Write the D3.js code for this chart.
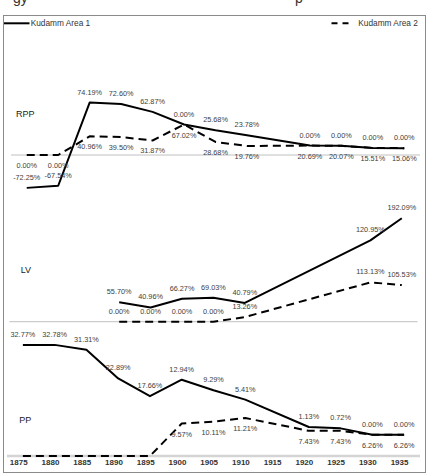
<!DOCTYPE html>
<html>
<head>
<meta charset="utf-8">
<script src="https://cdn.jsdelivr.net/npm/d3@7"></script>
<style>
body { margin: 0; background: #fff; }
svg { display: block; }
</style>
</head>
<body>
<svg id="chart" width="429" height="476"></svg>
<script>
var years = [1875, 1880, 1885, 1890, 1895, 1900, 1905, 1910, 1915, 1920, 1925, 1930, 1935];
var seriesNames = ["Kudamm Area 1", "Kudamm Area 2"];

// stacked line: the solid line is area 1 + area 2, the dashed one is area 2
var rppArea1 = [-72.25, -67.54, 74.19, 72.60, 62.87, 0.00, 25.68, 23.78, null, 0.00, 0.00, 0.00, 0.00];
var rppArea2 = [0.00, 0.00, 40.96, 39.50, 31.87, 67.02, 28.68, 19.76, null, 20.69, 20.07, 15.51, 15.06];
var lvArea1 = [null, null, null, 55.70, 40.96, 66.27, 69.03, 40.79, null, null, null, 120.95, 192.09];
var lvArea2 = [null, null, null, 0.00, 0.00, 0.00, 0.00, 13.26, null, null, null, 113.13, 105.53];
var ppArea1 = [32.77, 32.78, 31.31, 22.89, 17.66, 12.94, 9.29, 5.41, null, 1.13, 0.72, 0.00, 0.00];
var ppArea2 = [0.00, 0.00, 0.00, 0.00, 0.00, 9.57, 10.11, 11.21, null, 7.43, 7.43, 6.26, 6.26];
var ppArea2Unlabelled = [1875, 1880, 1885, 1890, 1895];

var panels = [
    {name: "RPP", a1: rppArea1, a2: rppArea2, xr: [11, 420], zero: 155, k: 0.455, a2below: true, lx: 16, ly: 116.7, skip2: []},
    {name: "LV", a1: lvArea1, a2: lvArea2, xr: [9.3, 417.5], zero: 321.7, k: 0.3475, a2below: false, lx: 20.7, ly: 272.7, skip2: []},
    {name: "PP", a1: ppArea1, a2: ppArea2, xr: [7, 420], zero: 456, k: 3.39, a2below: true, lx: 19.3, ly: 422.7, skip2: ppArea2Unlabelled}
];

var svg = d3.select("#chart");
var fmt = function(v) { return v.toFixed(2) + "%"; };

svg.append("rect").attr("width", 429).attr("height", 476).attr("fill", "#fff");

// cut-off title at the top edge
svg.append("text").attr("x", 13).attr("y", 3).attr("font-family", "Liberation Sans, Arial, sans-serif")
    .attr("font-size", 14).attr("fill", "#333").text("gy");
svg.append("text").attr("x", 295).attr("y", 3).attr("font-family", "Liberation Sans, Arial, sans-serif")
    .attr("font-size", 14).attr("fill", "#333").text("p");

svg.append("rect").attr("x", 3.5).attr("y", 15.5).attr("width", 422).attr("height", 457)
    .attr("fill", "none").attr("stroke", "#8a8a8a").attr("stroke-width", 1);

panels.forEach(function(p) {
    var x = d3.scalePoint().domain(years).range(p.xr).padding(0.5);
    var y = d3.scaleLinear().domain([0, 100]).range([p.zero, p.zero - 100 * p.k]);

    var pts = years.map(function(yr, i) {
        var v1 = p.a1[i], v2 = p.a2[i];
        return {year: yr, v1: v1, v2: v2, top: (v1 == null || v2 == null) ? null : v1 + v2};
    });

    var g = svg.append("g");

    var last = p.name == "PP";
    g.append("line").attr("x1", p.xr[0]).attr("x2", p.xr[1])
        .attr("y1", y(0)).attr("y2", y(0))
        .attr("stroke", last ? "#d4d4d4" : "#c0c0c0").attr("stroke-width", last ? 2.5 : 1);

    var lineTop = d3.line().x(function(d) { return x(d.year); }).y(function(d) { return y(d.top); });
    var lineTwo = d3.line().x(function(d) { return x(d.year); }).y(function(d) { return y(d.v2); });

    g.append("path").datum(pts.filter(function(d) { return d.v2 != null; }))
        .attr("d", lineTwo).attr("fill", "none").attr("stroke", "#000").attr("stroke-width", 2)
        .attr("stroke-dasharray", "8,5").attr("stroke-linejoin", "round");
    g.append("path").datum(pts.filter(function(d) { return d.top != null; }))
        .attr("d", lineTop).attr("fill", "none").attr("stroke", "#000").attr("stroke-width", 2)
        .attr("stroke-linejoin", "round");

    g.selectAll("text.l1").data(pts.filter(function(d) { return d.top != null; }))
        .enter().append("text").attr("class", "l1")
        .attr("x", function(d) { return x(d.year); })
        .attr("y", function(d) { return y(d.top) - 8; })
        .text(function(d) { return fmt(d.v1); });

    g.selectAll("text.l2").data(pts.filter(function(d) { return d.v2 != null && p.skip2.indexOf(d.year) < 0; }))
        .enter().append("text").attr("class", "l2")
        .attr("x", function(d) { return x(d.year); })
        .attr("y", function(d) { return p.a2below ? y(d.v2) + 13 : y(d.v2) - 8; })
        .text(function(d) { return fmt(d.v2); });

    g.selectAll("text").attr("text-anchor", "middle").attr("font-family", "Liberation Sans, Arial, sans-serif")
        .attr("font-size", 7.3).attr("fill", "#404040");

    g.append("text").attr("x", p.lx).attr("y", p.ly).attr("font-family", "Liberation Sans, Arial, sans-serif")
        .attr("font-size", 9).attr("fill", "#222").text(p.name);
});

// year labels
var xt = d3.scalePoint().domain(years).range([2.4, 414.9]).padding(0.5);
var axis = svg.append("g").attr("transform", "translate(0,459)")
    .call(d3.axisBottom(xt).tickSize(0).tickPadding(0));
axis.select(".domain").remove();
axis.selectAll("text").attr("font-family", "Liberation Sans, Arial, sans-serif")
    .attr("font-size", 8).attr("font-weight", "bold").attr("fill", "#333");

// legend
svg.append("line").attr("x1", 4).attr("x2", 29.5).attr("y1", 23.3).attr("y2", 23.3)
    .attr("stroke", "#000").attr("stroke-width", 2);
svg.append("line").attr("x1", 331.5).attr("x2", 349).attr("y1", 23.3).attr("y2", 23.3)
    .attr("stroke", "#000").attr("stroke-width", 2).attr("stroke-dasharray", "6,5");
svg.selectAll("text.leg").data(seriesNames).enter().append("text").attr("class", "leg")
    .attr("x", function(d, i) { return i == 0 ? 30.7 : 358.3; })
    .attr("y", 26)
    .attr("font-family", "Liberation Sans, Arial, sans-serif").attr("font-size", 8.3).attr("fill", "#333")
    .text(function(d) { return d; });
</script>
</body>
</html>
